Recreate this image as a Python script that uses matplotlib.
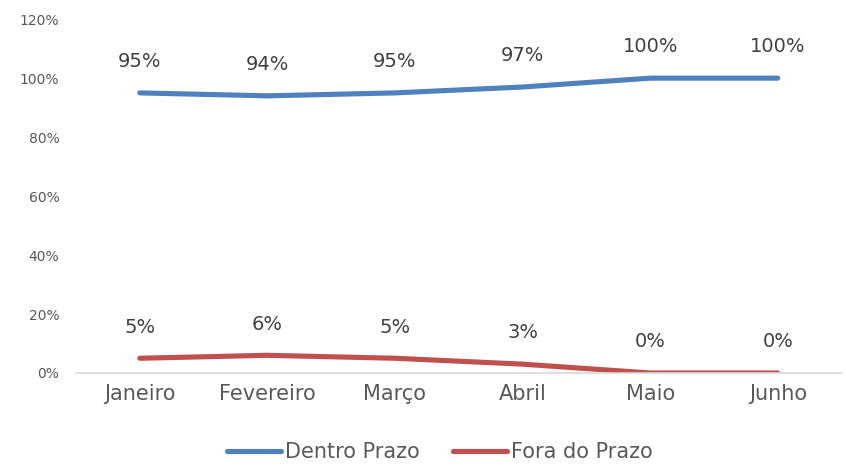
import matplotlib.pyplot as plt
from matplotlib.ticker import PercentFormatter

months = ['Janeiro', 'Fevereiro', 'Março', 'Abril', 'Maio', 'Junho']
dentro = [95, 94, 95, 97, 100, 100]
fora = [5, 6, 5, 3, 0, 0]

plt.rcParams['font.family'] = ['DejaVu Sans']

fig = plt.figure(figsize=(8.46, 4.68), dpi=100)
ax = fig.add_axes([0.0898, 0.203, 0.905, 0.756])

x = range(len(months))
ax.plot(x, dentro, color='#4F81BD', lw=3.7, solid_capstyle='round', label='Dentro Prazo')
ax.plot(x, fora, color='#C0504D', lw=3.7, solid_capstyle='round', label='Fora do Prazo')

# rótulos de dados acima de cada ponto
for serie in (dentro, fora):
    for i, v in enumerate(serie):
        ax.annotate(f'{v}%', (i, v), xytext=(0, 22.5), textcoords='offset points',
                    ha='center', va='center', fontsize=14, color='#404040')

ax.set_xlim(-0.5, 5.5)
ax.set_ylim(0, 120)
ax.set_yticks(range(0, 121, 20))
ax.yaxis.set_major_formatter(PercentFormatter(decimals=0))
ax.set_xticks(list(x))
ax.set_xticklabels(months)
ax.tick_params(axis='x', length=0, labelsize=15, labelcolor='#595959', pad=8)
ax.tick_params(axis='y', length=0, labelsize=10, labelcolor='#595959', pad=12)
for s in ['top', 'right', 'left']:
    ax.spines[s].set_visible(False)
ax.spines['bottom'].set_color('#D9D9D9')
ax.spines['bottom'].set_linewidth(1.2)

fig.legend(loc='center', bbox_to_anchor=(0.52, 0.034), ncol=2, frameon=False,
           fontsize=15, labelcolor='#595959', handlelength=2.6, handletextpad=0.2,
           columnspacing=1.6)

fig.savefig('out.png', dpi=100)
